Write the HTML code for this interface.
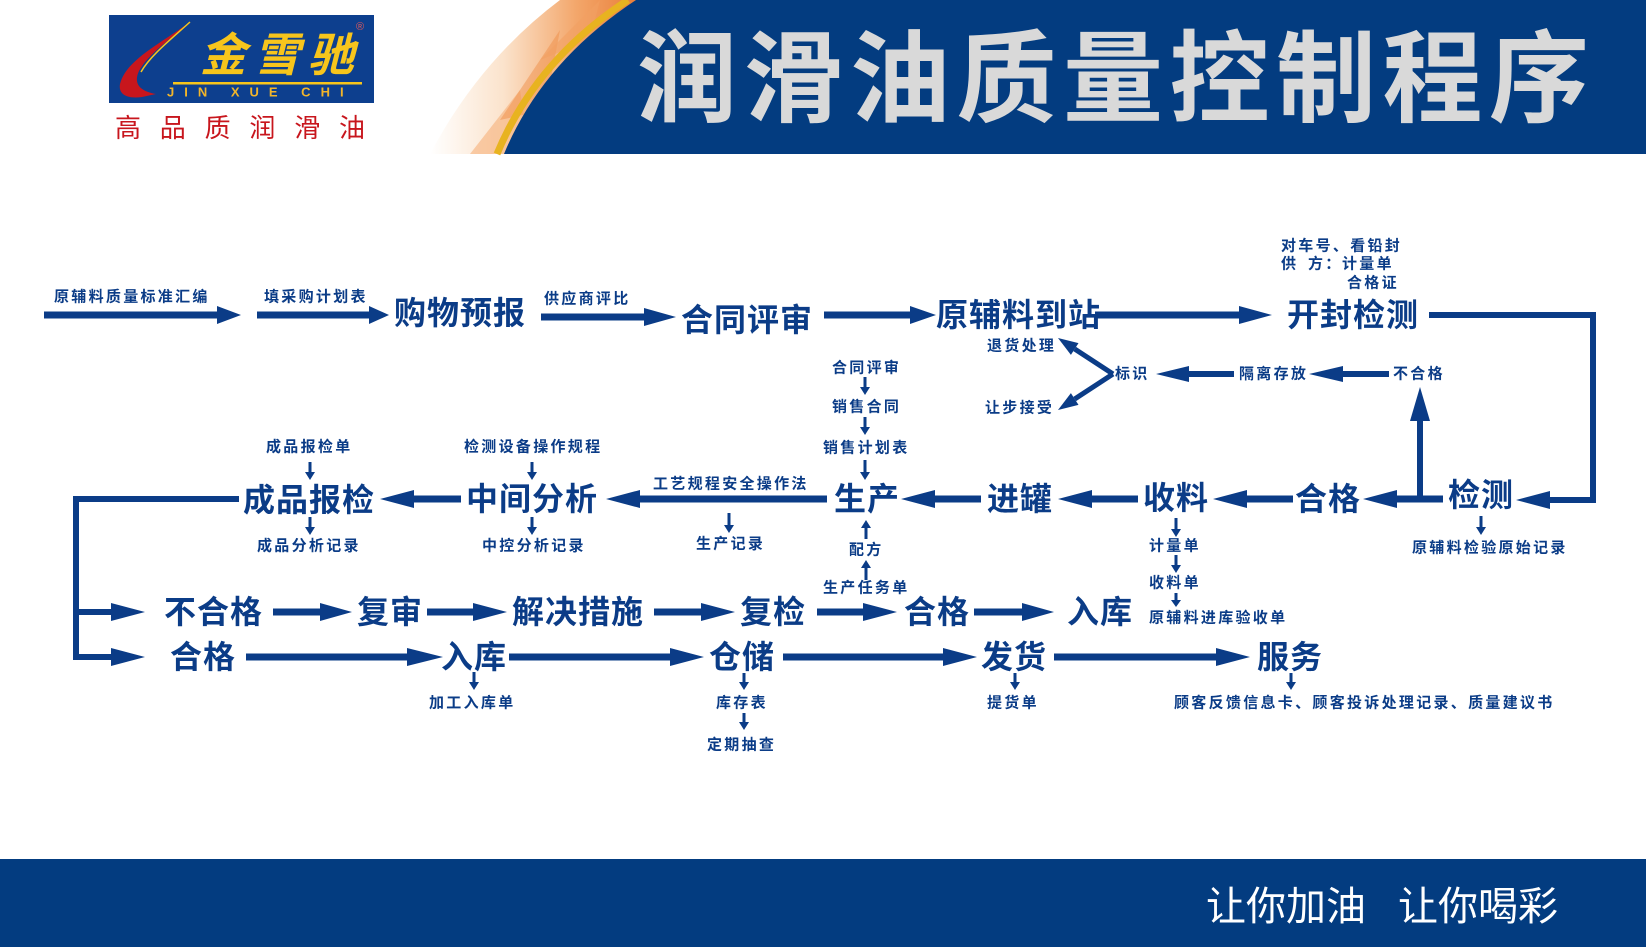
<!DOCTYPE html>
<html><head><meta charset="utf-8">
<style>
html,body{margin:0;padding:0;background:#fff;}
svg{display:block;}
.b{font-family:"Liberation Sans","Noto Sans CJK SC",sans-serif;font-weight:bold;font-size:32px;letter-spacing:1px;fill:#0b3c87;dominant-baseline:central;}
.s{font-family:"Liberation Sans","Noto Sans CJK SC",sans-serif;font-weight:bold;font-size:15px;letter-spacing:2.3px;fill:#0b3c87;dominant-baseline:central;}
</style></head>
<body>
<svg width="1646" height="947" viewBox="0 0 1646 947" xmlns="http://www.w3.org/2000/svg">
<defs>
<linearGradient id="og" x1="430" y1="0" x2="640" y2="0" gradientUnits="userSpaceOnUse">
<stop offset="0" stop-color="#ffffff"/>
<stop offset="0.35" stop-color="#fbe3cc"/>
<stop offset="0.7" stop-color="#f3a66a"/>
<stop offset="1" stop-color="#e97c36"/>
</linearGradient>
</defs>

<!-- Header decoration -->
<path d="M430 154 Q480 60 560 0 L640 0 Q545 60 505 154 Z" fill="url(#og)"/>
<path d="M470 154 L520 90 L530 154 Z" fill="#f6b07a" opacity="0.6"/>
<path d="M500 120 L560 30 L545 110 Z" fill="#f08f4a" opacity="0.5"/>
<path d="M540 60 L600 0 L590 40 Z" fill="#f2a062" opacity="0.6"/>
<path d="M497 154 Q536 60 628 0" fill="none" stroke="#e8b320" stroke-width="7"/>
<path d="M504 154 Q542 62 636 0 L1646 0 L1646 154 Z" fill="#033c80"/>
<text x="637" y="80" style="font-family:'Liberation Sans','Noto Sans CJK SC',sans-serif;font-weight:bold;font-size:100px;letter-spacing:6.5px;fill:#d9d9d9;dominant-baseline:central;">润滑油质量控制程序</text>

<!-- Logo -->
<rect x="109" y="15" width="265" height="88" fill="#0d3f8e"/>
<path d="M190 22 C160 44 126 60 120 84 C118 95 128 99 142 97 L156 94 C140 91 133 84 139 71 C148 54 172 38 190 22 Z" fill="#c8161d"/>
<path d="M190 22 C170 40 150 56 141 72" fill="none" stroke="#f7c51c" stroke-width="1.5"/>
<rect x="173" y="82" width="189" height="2.5" fill="#f7c51c"/>
<text x="200" y="55" style="font-family:'Liberation Sans','Noto Sans CJK SC',sans-serif;font-weight:bold;font-style:italic;font-size:46px;letter-spacing:8px;fill:#f7c51c;dominant-baseline:central;">金雪驰</text>
<text x="167" y="92" style="font-family:'Liberation Sans',sans-serif;font-weight:bold;font-size:13px;letter-spacing:10px;fill:#f2b52a;dominant-baseline:central;">JIN XUE CHI</text>
<text x="356" y="27" style="font-family:'Liberation Sans',sans-serif;font-size:11px;fill:#e05a5a;dominant-baseline:central;">®</text>
<text x="115" y="128" style="font-family:'Liberation Sans','Noto Sans CJK SC',sans-serif;font-size:26px;letter-spacing:18.8px;fill:#c8161d;dominant-baseline:central;">高品质润滑油</text>

<!-- Footer -->
<rect x="0" y="859" width="1646" height="88" fill="#033c80"/>
<text x="1206" y="907" style="font-family:'Liberation Sans','Noto Sans CJK SC',sans-serif;font-size:40px;fill:#ffffff;dominant-baseline:central;">让你加油</text>
<text x="1398" y="907" style="font-family:'Liberation Sans','Noto Sans CJK SC',sans-serif;font-size:40px;fill:#ffffff;dominant-baseline:central;">让你喝彩</text>

<g fill="#0b3c87">
<!-- Row1 right arrows y~315 -->
<path d="M44 311.5 H217 V306 L241 315 L217 324 V318.5 H44 Z"/>
<path d="M257 311.5 H369 V306 L389 315 L369 324 V318.5 H257 Z"/>
<path d="M541 313.5 H644 V308 L676 317 L644 326 V320.5 H541 Z"/>
<path d="M824 311.5 H910 V306 L936 315 L910 324 V318.5 H824 Z"/>
<path d="M1095 311.5 H1239 V306 L1272 315 L1239 324 V318.5 H1095 Z"/>

<!-- Row2 left arrows y374 -->
<path d="M1389 371 H1343 V366 L1309 374 L1343 382 V377 H1389 Z"/>
<path d="M1234 371 H1189 V366 L1156 374 L1189 382 V377 H1234 Z"/>
<!-- V arrows -->
<path d="M1113 374 L1074.7 349" fill="none" stroke="#0b3c87" stroke-width="5"/>
<polygon points="1058,338 1078.5,343.1 1070.9,354.9"/>
<path d="M1113 374 L1074.7 399" fill="none" stroke="#0b3c87" stroke-width="5"/>
<polygon points="1058,410 1078.5,404.9 1070.9,393.1"/>
<!-- up arrow to 不合格 -->
<rect x="1417" y="419" width="6" height="81"/>
<polygon points="1410,421 1430,421 1420,387"/>

<!-- Right bracket -->
<polyline points="1429,315 1593,315 1593,500 1548,500" fill="none" stroke="#0b3c87" stroke-width="6"/>
<polygon points="1550,491 1550,509 1516,500"/>

<!-- Row3 left arrows y499 -->
<path d="M1443 495.5 H1397 V490 L1363 499 L1397 508 V502.5 H1443 Z"/>
<path d="M1293 495.5 H1247 V490 L1213 499 L1247 508 V502.5 H1293 Z"/>
<path d="M1138 495.5 H1092 V490 L1058 499 L1092 508 V502.5 H1138 Z"/>
<path d="M981 495.5 H935 V490 L901 499 L935 508 V502.5 H981 Z"/>
<path d="M827 495.5 H640 V490 L606 499 L640 508 V502.5 H827 Z"/>
<path d="M461 495.5 H414 V490 L380 499 L414 508 V502.5 H461 Z"/>

<!-- Left bracket -->
<polyline points="239,499 76,499 76,657 113,657" fill="none" stroke="#0b3c87" stroke-width="6"/>
<rect x="76" y="609" width="37" height="6"/>
<polygon points="111,603 111,621 145,612"/>
<polygon points="111,648 111,666 145,657"/>

<!-- Row4 right arrows y612 -->
<path d="M273 608.5 H320 V603 L352 612 L320 621 V615.5 H273 Z"/>
<path d="M427 608.5 H473 V603 L507 612 L473 621 V615.5 H427 Z"/>
<path d="M654 608.5 H701 V603 L735 612 L701 621 V615.5 H654 Z"/>
<path d="M817 608.5 H863 V603 L897 612 L863 621 V615.5 H817 Z"/>
<path d="M974 608.5 H1022 V603 L1054 612 L1022 621 V615.5 H974 Z"/>

<!-- Row5 right arrows y657 -->
<path d="M246 653.5 H407 V648 L443 657 L407 666 V660.5 H246 Z"/>
<path d="M509 653.5 H670 V648 L704 657 L670 666 V660.5 H509 Z"/>
<path d="M783 653.5 H943 V648 L977 657 L943 666 V660.5 H783 Z"/>
<path d="M1054 653.5 H1216 V648 L1250 657 L1216 666 V660.5 H1054 Z"/>

<!-- small down arrows -->
<path d="M308.5 462 H311.5 V472 H315 L310 480 L305 472 H308.5 Z"/>
<path d="M308.5 517 H311.5 V527 H315 L310 535 L305 527 H308.5 Z"/>
<path d="M530.5 462 H533.5 V472 H537 L532 480 L527 472 H530.5 Z"/>
<path d="M530.5 517 H533.5 V527 H537 L532 535 L527 527 H530.5 Z"/>
<path d="M863.5 377 H866.5 V387 H870 L865 395 L860 387 H863.5 Z"/>
<path d="M863.5 417 H866.5 V427 H870 L865 435 L860 427 H863.5 Z"/>
<path d="M863.5 460 H866.5 V472 H870 L865 480 L860 472 H863.5 Z"/>
<path d="M727.5 513 H730.5 V525 H734 L729 533 L724 525 H727.5 Z"/>
<!-- up arrows under 生产 -->
<path d="M864.5 539 H867.5 V528 H871 L866 520 L861 528 H864.5 Z"/>
<path d="M864.5 580 H867.5 V568 H871 L866 560 L861 568 H864.5 Z"/>
<!-- 收料 column -->
<path d="M1174.5 518 H1177.5 V529 H1181 L1176 537 L1171 529 H1174.5 Z"/>
<path d="M1174.5 555 H1177.5 V565 H1181 L1176 573 L1171 565 H1174.5 Z"/>
<path d="M1174.5 593 H1177.5 V600 H1181 L1176 607 L1171 600 H1174.5 Z"/>
<!-- 检测 -->
<path d="M1479.5 516 H1482.5 V527 H1486 L1481 535 L1476 527 H1479.5 Z"/>
<!-- Row5 downs -->
<path d="M472.5 672 H475.5 V682 H479 L474 690 L469 682 H472.5 Z"/>
<path d="M742.5 673 H745.5 V682 H749 L744 690 L739 682 H742.5 Z"/>
<path d="M742.5 713 H745.5 V722 H749 L744 730 L739 722 H742.5 Z"/>
<path d="M1013.5 673 H1016.5 V682 H1020 L1015 690 L1010 682 H1013.5 Z"/>
<path d="M1289.5 673 H1292.5 V682 H1296 L1291 690 L1286 682 H1289.5 Z"/>
</g>

<!-- Big labels -->
<text class="b" x="394" y="313">购物预报</text>
<text class="b" x="681" y="320">合同评审</text>
<text class="b" x="936" y="315">原辅料到站</text>
<text class="b" x="1287" y="315">开封检测</text>
<text class="b" x="1448" y="495">检测</text>
<text class="b" x="1295" y="499">合格</text>
<text class="b" x="1143" y="498">收料</text>
<text class="b" x="987" y="499">进罐</text>
<text class="b" x="834" y="499">生产</text>
<text class="b" x="466" y="499">中间分析</text>
<text class="b" x="243" y="500">成品报检</text>
<text class="b" x="164" y="612">不合格</text>
<text class="b" x="357" y="612">复审</text>
<text class="b" x="512" y="612">解决措施</text>
<text class="b" x="740" y="612">复检</text>
<text class="b" x="904" y="612">合格</text>
<text class="b" x="1067" y="612">入库</text>
<text class="b" x="170" y="657">合格</text>
<text class="b" x="441" y="657">入库</text>
<text class="b" x="709" y="657">仓储</text>
<text class="b" x="981" y="657">发货</text>
<text class="b" x="1257" y="657">服务</text>

<!-- Small labels -->
<text class="s" x="54" y="297">原辅料质量标准汇编</text>
<text class="s" x="264" y="297">填采购计划表</text>
<text class="s" x="544" y="299">供应商评比</text>
<text class="s" x="1281" y="246">对车号、看铅封</text>
<text class="s" x="1281" y="264">供</text>
<text class="s" x="1308" y="264">方：</text>
<text class="s" x="1342" y="264">计量单</text>
<text class="s" x="1347" y="283">合格证</text>
<text class="s" x="987" y="346">退货处理</text>
<text class="s" x="985" y="408">让步接受</text>
<text class="s" x="1115" y="374">标识</text>
<text class="s" x="1239" y="374">隔离存放</text>
<text class="s" x="1393" y="374">不合格</text>
<text class="s" x="832" y="368">合同评审</text>
<text class="s" x="832" y="407">销售合同</text>
<text class="s" x="823" y="448">销售计划表</text>
<text class="s" x="266" y="447">成品报检单</text>
<text class="s" x="257" y="546">成品分析记录</text>
<text class="s" x="464" y="447">检测设备操作规程</text>
<text class="s" x="482" y="546">中控分析记录</text>
<text class="s" x="653" y="484">工艺规程安全操作法</text>
<text class="s" x="696" y="544">生产记录</text>
<text class="s" x="849" y="550">配方</text>
<text class="s" x="823" y="588">生产任务单</text>
<text class="s" x="1149" y="546">计量单</text>
<text class="s" x="1149" y="583">收料单</text>
<text class="s" x="1149" y="618">原辅料进库验收单</text>
<text class="s" x="1412" y="548">原辅料检验原始记录</text>
<text class="s" x="429" y="703">加工入库单</text>
<text class="s" x="716" y="703">库存表</text>
<text class="s" x="707" y="745">定期抽查</text>
<text class="s" x="987" y="703">提货单</text>
<text class="s" x="1174" y="703">顾客反馈信息卡、顾客投诉处理记录、质量建议书</text>
</svg>
</body></html>
